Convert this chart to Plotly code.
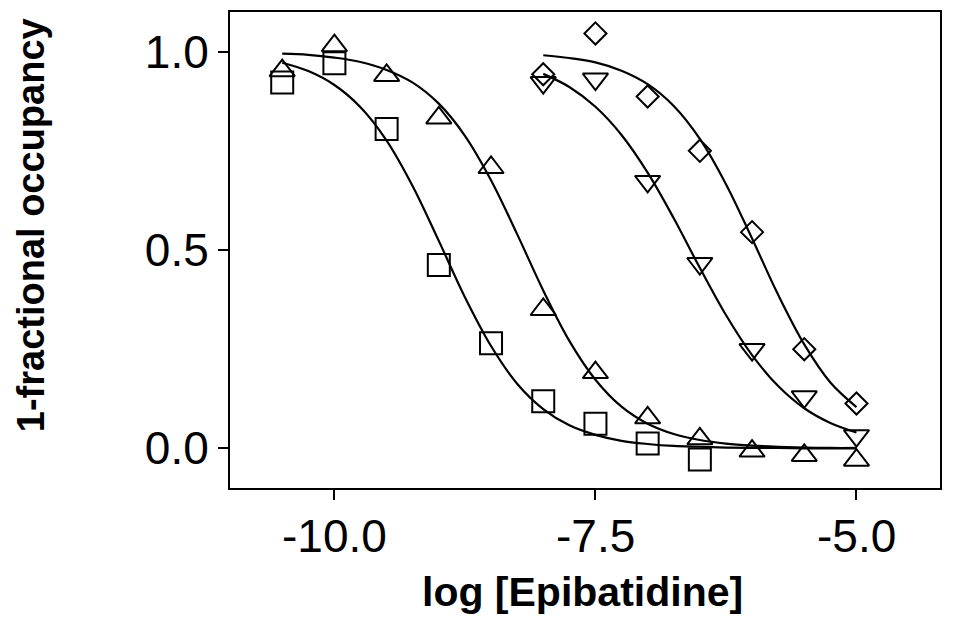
import plotly.graph_objects as go

# ---- data points ----
sq_x = [-10.5, -10.0, -9.5, -9.0, -8.5, -8.0, -7.5, -7.0, -6.5]
sq_y = [0.922, 0.971, 0.805, 0.462, 0.265, 0.119, 0.062, 0.012, -0.028]

tu_x = [-10.5, -10.0, -9.5, -9.0, -8.5, -8.0, -7.5, -7.0, -6.5, -6.0, -5.5, -5.0]
tu_y = [0.952, 1.015, 0.940, 0.833, 0.708, 0.350, 0.191, 0.077, 0.024, -0.007, -0.018, -0.030]

td_x = [-8.0, -7.5, -7.0, -6.5, -6.0, -5.5, -5.0]
td_y = [0.922, 0.931, 0.673, 0.466, 0.249, 0.130, 0.032]

di_x = [-8.0, -7.5, -7.0, -6.5, -6.0, -5.5, -5.0]
di_y = [0.943, 1.046, 0.887, 0.750, 0.545, 0.250, 0.113]

# ---- fitted curves ----
curve_long_x = [-10.5, -10.25, -10.0, -9.75, -9.5, -9.25, -9.0, -8.75, -8.5, -8.25, -8.0, -7.75,
                -7.5, -7.25, -7.0, -6.75, -6.5, -6.25, -6.0, -5.75, -5.5, -5.25, -5.0]
sq_fit_y = [0.972, 0.951, 0.916, 0.860, 0.776, 0.661, 0.523, 0.381, 0.258, 0.163, 0.099, 0.058,
            0.034, 0.019, 0.011, 0.006, 0.004, 0.002, 0.001, 0.001, 0.000, 0.000, 0.000]
tu_fit_y = [0.995, 0.992, 0.985, 0.974, 0.954, 0.922, 0.869, 0.788, 0.676, 0.540, 0.398, 0.271,
            0.173, 0.105, 0.062, 0.036, 0.021, 0.012, 0.007, 0.004, 0.002, 0.001, 0.001]

curve_short_x = [-8.0, -7.75, -7.5, -7.25, -7.0, -6.75, -6.5, -6.25, -6.0, -5.75, -5.5, -5.25, -5.0]
td_fit_y = [0.944, 0.911, 0.861, 0.790, 0.695, 0.580, 0.455, 0.336, 0.235, 0.157, 0.101, 0.064, 0.040]
di_fit_y = [0.991, 0.984, 0.973, 0.952, 0.918, 0.863, 0.780, 0.666, 0.529, 0.387, 0.262, 0.166, 0.104]

x_tickvals = [-10.0, -7.5, -5.0]
x_ticktext = ["-10.0", "-7.5", "-5.0"]
y_tickvals = [0.0, 0.5, 1.0]
y_ticktext = ["0.0", "0.5", "1.0"]

x_title = "log [Epibatidine]"
y_title = "1-fractional occupancy"

FONT = "Liberation Sans, Arial, sans-serif"

fig = go.Figure()

line_style = dict(color="black", width=2.2, shape="spline")
for cx, cy in [(curve_long_x, sq_fit_y), (curve_long_x, tu_fit_y),
               (curve_short_x, td_fit_y), (curve_short_x, di_fit_y)]:
    fig.add_trace(go.Scatter(x=cx, y=cy, mode="lines", line=line_style,
                             showlegend=False, hoverinfo="skip"))

def add_pts(x, y, symbol, size):
    fig.add_trace(go.Scatter(
        x=x, y=y, mode="markers", showlegend=False,
        marker=dict(symbol=symbol, size=size, color="black",
                    line=dict(color="black", width=2))))

add_pts(sq_x, sq_y, "square-open", 22)
add_pts(tu_x, tu_y, "triangle-up-open", 22)
add_pts(td_x, td_y, "triangle-down-open", 22)
add_pts(di_x, di_y, "diamond-open", 17)

axis_common = dict(showgrid=False, zeroline=False, showline=True, linecolor="black",
                   linewidth=2, mirror=True, ticks="outside", ticklen=10, tickwidth=1.5,
                   tickcolor="black", tickfont=dict(family=FONT, size=46, color="black"))

fig.update_xaxes(range=[-11, -4.2], tickvals=x_tickvals, ticktext=x_ticktext,
                 showticklabels=False, **axis_common)
fig.update_yaxes(range=[-0.1, 1.1], tickvals=y_tickvals, ticktext=y_ticktext, **axis_common)

# x tick labels placed as annotations for precise vertical position
for v, t in zip(x_tickvals, x_ticktext):
    fig.add_annotation(text=t, xref="x", yref="paper", x=v, y=-0.1004,
                       xanchor="center", yanchor="middle", showarrow=False,
                       font=dict(family=FONT, size=46, color="black"))

fig.add_annotation(text="<b>" + x_title + "</b>", xref="paper", yref="paper",
                   x=0.4958, y=-0.2176, xanchor="center", yanchor="middle", showarrow=False,
                   font=dict(family=FONT, size=41, color="black"))
fig.add_annotation(text="<b>" + y_title + "</b>", xref="paper", yref="paper",
                   x=-0.2803, y=0.552, xanchor="center", yanchor="middle", showarrow=False,
                   textangle=-90, font=dict(family=FONT, size=38, color="black"))

# page body has an 8px margin, so the figure is sized/offset to compensate
fig.update_layout(width=957, height=611, margin=dict(l=222, r=25, t=2, b=131),
                  plot_bgcolor="white", paper_bgcolor="white")

fig.write_html("out.html")
